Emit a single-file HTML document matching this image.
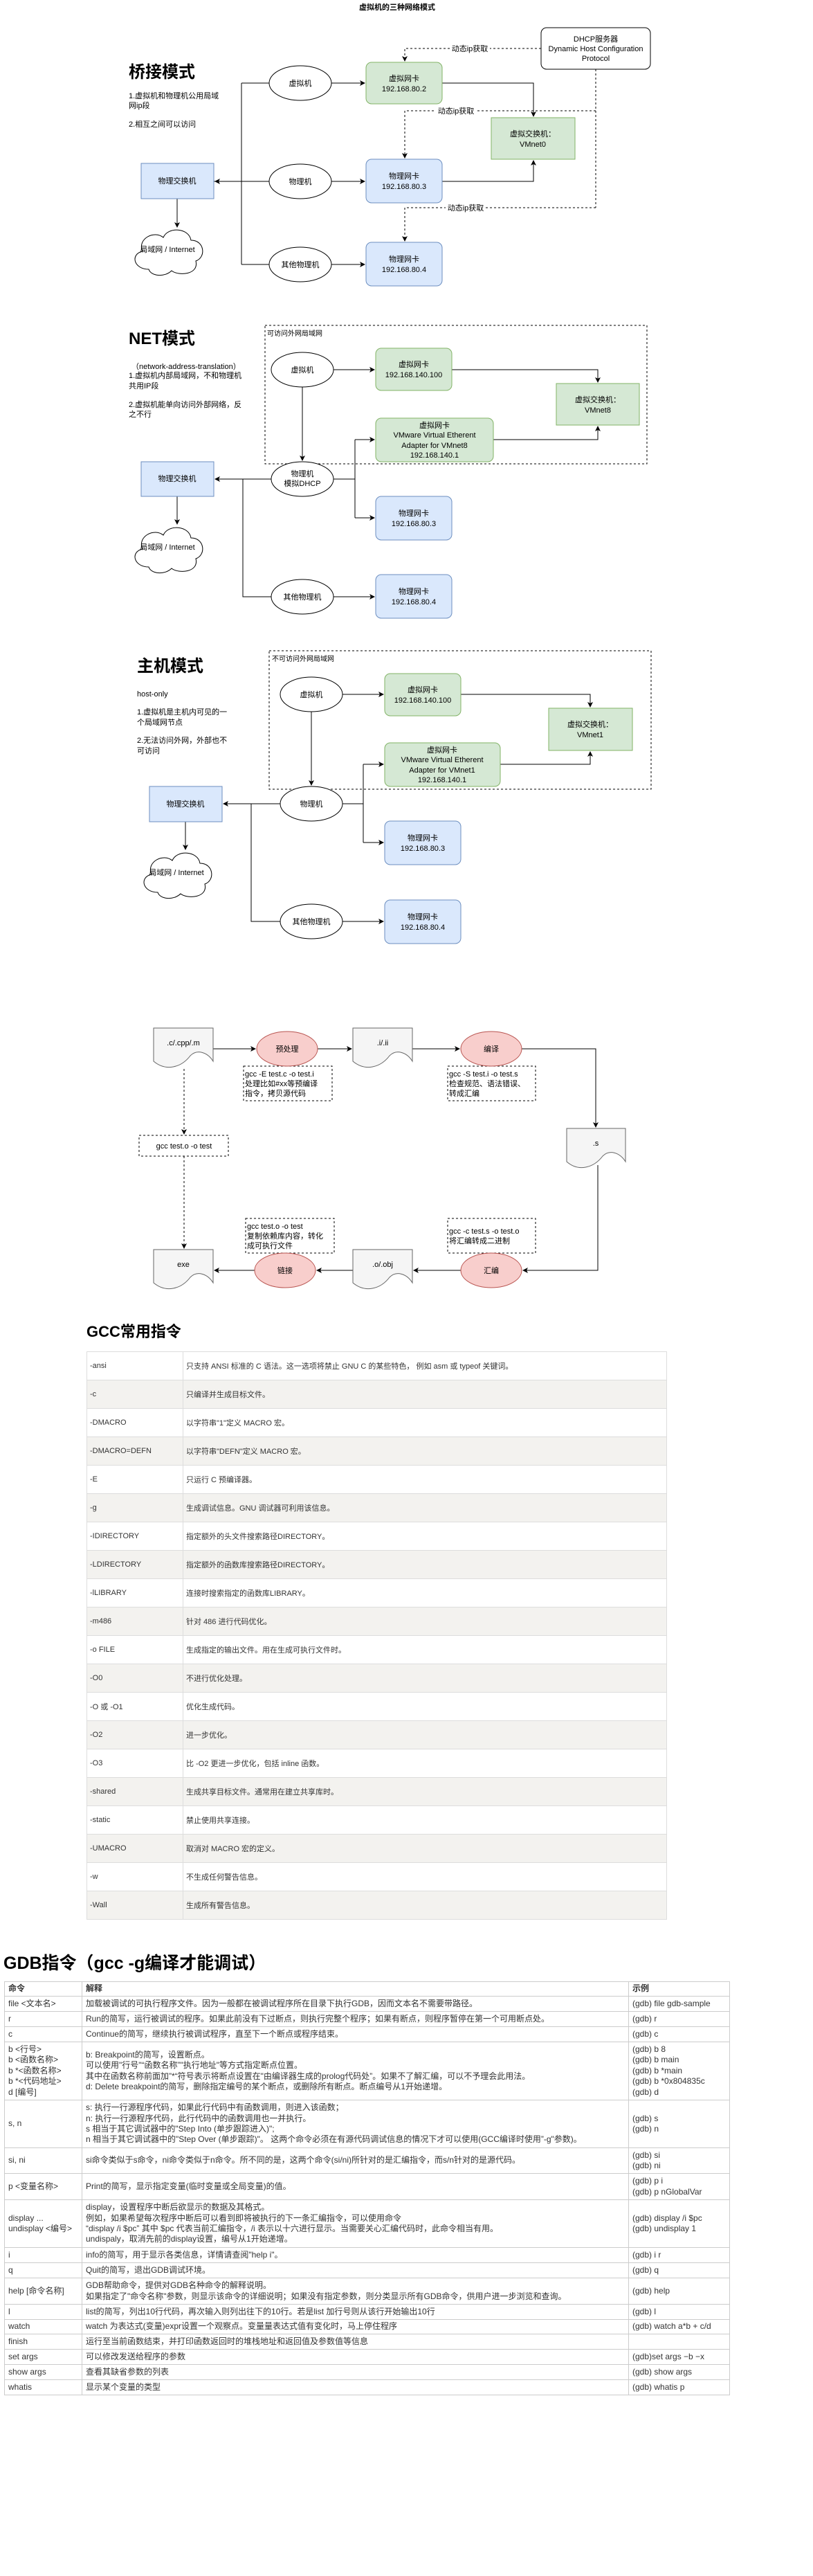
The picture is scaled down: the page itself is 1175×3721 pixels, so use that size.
<!DOCTYPE html>
<html><head><meta charset="utf-8">
<style>
html,body{margin:0;padding:0;background:#fff;}
body{width:1175px;height:3721px;position:relative;overflow:hidden;font-family:"Liberation Sans","Noto Sans CJK SC",sans-serif;}
svg text{font-family:"Liberation Sans","Noto Sans CJK SC",sans-serif;font-size:11px;fill:#000;}
.h{position:absolute;font-weight:bold;color:#000;white-space:nowrap;}
table{position:absolute;border-collapse:collapse;table-layout:fixed;}
.gcc td{border:1px solid #ddd;font-size:11px;color:#333;padding:0 4px;height:40px;white-space:nowrap;}
.gcc tr:nth-child(even) td{background:#f3f2ef;}
.gdb td{border:1px solid #ccc;font-size:12px;line-height:15.4px;color:#333;padding:0 5px;white-space:nowrap;vertical-align:middle;}
.gdb tr.hd td{font-weight:bold;}
</style></head><body>
<svg width="1175" height="1900" style="position:absolute;left:0;top:0" xmlns="http://www.w3.org/2000/svg">
<defs>
<marker id="a" markerWidth="8" markerHeight="8" refX="7" refY="4" orient="auto" markerUnits="userSpaceOnUse"><path d="M0,0 L8,4 L0,8 L2,4 Z" fill="#000"/></marker>
<path id="cloud" d="M27 62 C5 62 0 40 18 36 C10 18 35 5 48 16 C55 0 85 2 88 20 C108 20 110 45 95 50 C100 70 70 72 60 64 C50 74 30 72 27 62 Z"/>
</defs>
<g stroke="#000" fill="none" stroke-width="1">
<!-- ===== Bridge ===== -->
<path d="M349,120 V382 M349,120 H389 M349,382 H389 M389,262 H309" />
<path d="M349,262 H311" marker-end="url(#a)"/>
<path d="M256,287 V328" marker-end="url(#a)"/>
<path d="M479,120 H527" marker-end="url(#a)"/>
<path d="M479,262 H527" marker-end="url(#a)"/>
<path d="M479,382 H527" marker-end="url(#a)"/>
<path d="M639,120 H771 V168" marker-end="url(#a)"/>
<path d="M639,262 H771 V232" marker-end="url(#a)"/>
<g stroke-dasharray="3,3">
<path d="M782,70 H585 V88" marker-end="url(#a)"/>
<path d="M861,100 V300"/>
<path d="M861,160 H585 V228" marker-end="url(#a)"/>
<path d="M861,300 H585 V348" marker-end="url(#a)"/>
</g>
<!-- ===== NET ===== -->
<rect x="383" y="470" width="552" height="200" stroke-dasharray="3,3"/>
<path d="M437,559 V665" marker-end="url(#a)"/>
<path d="M392,692 H311" marker-end="url(#a)"/>
<path d="M351,692 V862 H392"/>
<path d="M256,717 V757" marker-end="url(#a)"/>
<path d="M482,534 H541" marker-end="url(#a)"/>
<path d="M653,534 H864 V552" marker-end="url(#a)"/>
<path d="M713,635 H864 V616" marker-end="url(#a)"/>
<path d="M482,692 H513 V748"/>
<path d="M513,635 H541" marker-end="url(#a)"/>
<path d="M513,748 H541" marker-end="url(#a)"/>
<path d="M513,692 V635"/>
<path d="M482,862 H541" marker-end="url(#a)"/>
<!-- ===== Host ===== -->
<rect x="389" y="940" width="552" height="200" stroke-dasharray="3,3"/>
<path d="M450,1028 V1134" marker-end="url(#a)"/>
<path d="M405,1161 H323" marker-end="url(#a)"/>
<path d="M363,1161 V1331 H405"/>
<path d="M268,1187 V1227" marker-end="url(#a)"/>
<path d="M495,1003 H554" marker-end="url(#a)"/>
<path d="M666,1003 H853 V1021" marker-end="url(#a)"/>
<path d="M723,1104 H853 V1086" marker-end="url(#a)"/>
<path d="M495,1161 H525 V1217 M525,1161 V1104"/>
<path d="M525,1104 H554" marker-end="url(#a)"/>
<path d="M525,1217 H554" marker-end="url(#a)"/>
<path d="M495,1331 H554" marker-end="url(#a)"/>
<!-- ===== GCC flow ===== -->
<path d="M308,1515 H369" marker-end="url(#a)"/>
<path d="M459,1515 H508" marker-end="url(#a)"/>
<path d="M596,1515 H664" marker-end="url(#a)"/>
<path d="M754,1515 H861 V1628" marker-end="url(#a)"/>
<path d="M864,1683 V1835 H756" marker-end="url(#a)"/>
<path d="M666,1835 H598" marker-end="url(#a)"/>
<path d="M510,1835 H458" marker-end="url(#a)"/>
<path d="M368,1835 H310" marker-end="url(#a)"/>
<g stroke-dasharray="3,3">
<path d="M266,1544 V1638" marker-end="url(#a)"/>
<path d="M266,1670 V1803" marker-end="url(#a)"/>
<rect x="201" y="1640" width="129" height="30"/>
<rect x="352" y="1540" width="128" height="50"/>
<rect x="647" y="1540" width="127" height="50"/>
<rect x="355" y="1760" width="128" height="50"/>
<rect x="647" y="1760" width="127" height="50"/>
</g>
</g>
<!-- shapes bridge -->
<g stroke="#000" fill="#fff">
<ellipse cx="434" cy="120" rx="45" ry="25"/>
<ellipse cx="434" cy="262" rx="45" ry="25"/>
<ellipse cx="434" cy="382" rx="45" ry="25"/>
<rect x="782" y="40" width="158" height="60" rx="8"/>
<use href="#cloud" transform="translate(188,327)"/>
<ellipse cx="437" cy="534" rx="45" ry="25"/>
<ellipse cx="437" cy="692" rx="45" ry="25"/>
<ellipse cx="437" cy="862" rx="45" ry="25"/>
<use href="#cloud" transform="translate(188,757)"/>
<ellipse cx="450" cy="1003" rx="45" ry="25"/>
<ellipse cx="450" cy="1161" rx="45" ry="25"/>
<ellipse cx="450" cy="1331" rx="45" ry="25"/>
<use href="#cloud" transform="translate(201,1227)"/>
</g>
<g fill="#d5e8d4" stroke="#82b366">
<rect x="529" y="90" width="110" height="60" rx="8"/>
<rect x="710" y="170" width="121" height="60"/>
<rect x="543" y="503" width="110" height="61" rx="8"/>
<rect x="804" y="554" width="120" height="60"/>
<rect x="543" y="604" width="170" height="63" rx="8"/>
<rect x="556" y="973" width="110" height="61" rx="8"/>
<rect x="793" y="1023" width="121" height="61"/>
<rect x="556" y="1073" width="167" height="63" rx="8"/>
</g>
<g fill="#dae8fc" stroke="#6c8ebf">
<rect x="529" y="230" width="110" height="63" rx="8"/>
<rect x="529" y="350" width="110" height="63" rx="8"/>
<rect x="204" y="236" width="105" height="51"/>
<rect x="543" y="717" width="110" height="63" rx="8"/>
<rect x="543" y="830" width="110" height="63" rx="8"/>
<rect x="204" y="667" width="105" height="50"/>
<rect x="556" y="1186" width="110" height="63" rx="8"/>
<rect x="556" y="1300" width="110" height="63" rx="8"/>
<rect x="216" y="1136" width="105" height="51"/>
</g>
<g fill="#f5f5f5" stroke="#666">
<path d="M222,1485 H308 V1533 C300,1520 285,1515 275,1525 C262,1542 240,1548 222,1533 Z"/>
<path d="M510,1485 H596 V1533 C588,1520 573,1515 563,1525 C550,1542 528,1548 510,1533 Z"/>
<path d="M819,1630 H904 V1678 C896,1665 881,1660 871,1670 C858,1687 836,1693 819,1678 Z"/>
<path d="M510,1805 H596 V1853 C588,1840 573,1835 563,1845 C550,1862 528,1868 510,1853 Z"/>
<path d="M222,1805 H308 V1853 C300,1840 285,1835 275,1845 C262,1862 240,1868 222,1853 Z"/>
</g>
<g fill="#f8cecc" stroke="#b85450">
<ellipse cx="415" cy="1515" rx="44" ry="25"/>
<ellipse cx="710" cy="1515" rx="44" ry="25"/>
<ellipse cx="710" cy="1835" rx="44" ry="25"/>
<ellipse cx="412" cy="1835" rx="44" ry="25"/>
</g>
<!-- label backgrounds -->
<g fill="#fff">
<rect x="650" y="63" width="58" height="14"/>
<rect x="630" y="153" width="58" height="14"/>
<rect x="644" y="293" width="58" height="14"/>
</g>
<!-- texts -->
<g text-anchor="middle">
<text x="574" y="14" font-weight="bold">虚拟机的三种网络模式</text>
<text x="679" y="74">动态ip获取</text>
<text x="659" y="164">动态ip获取</text>
<text x="673" y="304">动态ip获取</text>
<text x="861" y="60">DHCP服务器</text>
<text x="861" y="74">Dynamic Host Configuration</text>
<text x="861" y="88">Protocol</text>
<text x="434" y="124">虚拟机</text>
<text x="434" y="266">物理机</text>
<text x="434" y="386">其他物理机</text>
<text x="584" y="117">虚拟网卡</text><text x="584" y="132">192.168.80.2</text>
<text x="770" y="197">虚拟交换机：</text><text x="770" y="212">VMnet0</text>
<text x="584" y="258">物理网卡</text><text x="584" y="273">192.168.80.3</text>
<text x="584" y="378">物理网卡</text><text x="584" y="393">192.168.80.4</text>
<text x="256" y="265">物理交换机</text>
<text x="242" y="364">局域网 / Internet</text>
<text x="437" y="538">虚拟机</text>
<text x="437" y="688">物理机</text><text x="437" y="702">模拟DHCP</text>
<text x="437" y="866">其他物理机</text>
<text x="598" y="530">虚拟网卡</text><text x="598" y="545">192.168.140.100</text>
<text x="864" y="581">虚拟交换机：</text><text x="864" y="596">VMnet8</text>
<text x="628" y="618">虚拟网卡</text><text x="628" y="632">VMware Virtual Etherent</text><text x="628" y="647">Adapter for VMnet8</text><text x="628" y="661">192.168.140.1</text>
<text x="598" y="745">物理网卡</text><text x="598" y="760">192.168.80.3</text>
<text x="598" y="858">物理网卡</text><text x="598" y="873">192.168.80.4</text>
<text x="256" y="695">物理交换机</text>
<text x="242" y="794">局域网 / Internet</text>
<text x="450" y="1007">虚拟机</text>
<text x="450" y="1165">物理机</text>
<text x="450" y="1335">其他物理机</text>
<text x="611" y="1000">虚拟网卡</text><text x="611" y="1015">192.168.140.100</text>
<text x="853" y="1050">虚拟交换机：</text><text x="853" y="1065">VMnet1</text>
<text x="639" y="1087">虚拟网卡</text><text x="639" y="1101">VMware Virtual Etherent</text><text x="639" y="1116">Adapter for VMnet1</text><text x="639" y="1130">192.168.140.1</text>
<text x="611" y="1214">物理网卡</text><text x="611" y="1229">192.168.80.3</text>
<text x="611" y="1328">物理网卡</text><text x="611" y="1343">192.168.80.4</text>
<text x="268" y="1165">物理交换机</text>
<text x="255" y="1264">局域网 / Internet</text>
<text x="265" y="1510">.c/.cpp/.m</text>
<text x="553" y="1510">.i/.ii</text>
<text x="861" y="1655">.s</text>
<text x="553" y="1830">.o/.obj</text>
<text x="265" y="1830">exe</text>
<text x="415" y="1519">预处理</text>
<text x="710" y="1519">编译</text>
<text x="710" y="1839">汇编</text>
<text x="412" y="1839">链接</text>
<text x="266" y="1659">gcc test.o -o test</text>
</g>
<g>
<text x="186" y="112" style="font-size:24px;font-weight:bold">桥接模式</text>
<text x="186" y="142">1.虚拟机和物理机公用局域</text>
<text x="186" y="156">网ip段</text>
<text x="186" y="183">2.相互之间可以访问</text>
<text x="186" y="497" style="font-size:24px;font-weight:bold">NET模式</text>
<text x="190" y="533">（network-address-translation）</text>
<text x="186" y="546">1.虚拟机内部局域网，不和物理机</text>
<text x="186" y="561">共用IP段</text>
<text x="186" y="588">2.虚拟机能单向访问外部网络，反</text>
<text x="186" y="602">之不行</text>
<text x="198" y="970" style="font-size:24px;font-weight:bold">主机模式</text>
<text x="198" y="1006">host-only</text>
<text x="198" y="1032">1.虚拟机是主机内可见的一</text>
<text x="198" y="1047">个局域网节点</text>
<text x="198" y="1073">2.无法访问外网，外部也不</text>
<text x="198" y="1088">可访问</text>
<text x="386" y="485" style="font-size:10px">可访问外网局域网</text>
<text x="393" y="955" style="font-size:10px">不可访问外网局域网</text>
<text x="354" y="1555">gcc -E test.c -o test.i</text>
<text x="354" y="1569">处理比如#xx等预编译</text>
<text x="354" y="1583">指令，拷贝源代码</text>
<text x="649" y="1555">gcc -S test.i -o test.s</text>
<text x="649" y="1569">检查规范、语法错误、</text>
<text x="649" y="1583">转成汇编</text>
<text x="357" y="1775">gcc test.o -o test</text>
<text x="357" y="1789">复制依赖库内容，转化</text>
<text x="357" y="1803">成可执行文件</text>
<text x="649" y="1782">gcc -c test.s -o test.o</text>
<text x="649" y="1796">将汇编转成二进制</text>
</g>
</svg>

<div class="h" style="left:125px;top:1906px;font-size:22px;">GCC常用指令</div>
<table class="gcc" style="left:125px;top:1952px;width:838px;">
<colgroup><col style="width:139px"><col style="width:699px"></colgroup>
<tr><td>-ansi</td><td>只支持 ANSI 标准的 C 语法。这一选项将禁止 GNU C 的某些特色， 例如 asm 或 typeof 关键词。</td></tr>
<tr><td>-c</td><td>只编译并生成目标文件。</td></tr>
<tr><td>-DMACRO</td><td>以字符串"1"定义 MACRO 宏。</td></tr>
<tr><td>-DMACRO=DEFN</td><td>以字符串"DEFN"定义 MACRO 宏。</td></tr>
<tr><td>-E</td><td>只运行 C 预编译器。</td></tr>
<tr><td>-g</td><td>生成调试信息。GNU 调试器可利用该信息。</td></tr>
<tr><td>-IDIRECTORY</td><td>指定额外的头文件搜索路径DIRECTORY。</td></tr>
<tr><td>-LDIRECTORY</td><td>指定额外的函数库搜索路径DIRECTORY。</td></tr>
<tr><td>-lLIBRARY</td><td>连接时搜索指定的函数库LIBRARY。</td></tr>
<tr><td>-m486</td><td>针对 486 进行代码优化。</td></tr>
<tr><td>-o FILE</td><td>生成指定的输出文件。用在生成可执行文件时。</td></tr>
<tr><td>-O0</td><td>不进行优化处理。</td></tr>
<tr><td>-O 或 -O1</td><td>优化生成代码。</td></tr>
<tr><td>-O2</td><td>进一步优化。</td></tr>
<tr><td>-O3</td><td>比 -O2 更进一步优化，包括 inline 函数。</td></tr>
<tr><td>-shared</td><td>生成共享目标文件。通常用在建立共享库时。</td></tr>
<tr><td>-static</td><td>禁止使用共享连接。</td></tr>
<tr><td>-UMACRO</td><td>取消对 MACRO 宏的定义。</td></tr>
<tr><td>-w</td><td>不生成任何警告信息。</td></tr>
<tr><td>-Wall</td><td>生成所有警告信息。</td></tr>
</table>

<div class="h" style="left:5px;top:2816px;font-size:25px;">GDB指令（gcc -g编译才能调试）</div>
<table class="gdb" style="left:6px;top:2862px;width:1048px;">
<colgroup><col style="width:112px"><col style="width:790px"><col style="width:146px"></colgroup>
<tr class="hd" style="height:21px"><td>命令</td><td>解释</td><td>示例</td></tr>
<tr style="height:22px"><td>file &lt;文本名&gt;</td><td>加载被调试的可执行程序文件。因为一般都在被调试程序所在目录下执行GDB，因而文本名不需要带路径。</td><td>(gdb) file gdb-sample</td></tr>
<tr style="height:22px"><td>r</td><td>Run的简写，运行被调试的程序。如果此前没有下过断点，则执行完整个程序；如果有断点，则程序暂停在第一个可用断点处。</td><td>(gdb) r</td></tr>
<tr style="height:22px"><td>c</td><td>Continue的简写，继续执行被调试程序，直至下一个断点或程序结束。</td><td>(gdb) c</td></tr>
<tr style="height:84px"><td>b &lt;行号&gt;<br>b &lt;函数名称&gt;<br>b *&lt;函数名称&gt;<br>b *&lt;代码地址&gt;<br>d [编号]</td><td>b: Breakpoint的简写，设置断点。<br>可以使用"行号"“函数名称”"执行地址"等方式指定断点位置。<br>其中在函数名称前面加”*“符号表示将断点设置在"由编译器生成的prolog代码处”。如果不了解汇编，可以不予理会此用法。<br>d: Delete breakpoint的简写，删除指定编号的某个断点，或删除所有断点。断点编号从1开始递增。</td><td>(gdb) b 8<br>(gdb) b main<br>(gdb) b *main<br>(gdb) b *0x804835c<br>(gdb) d</td></tr>
<tr style="height:69px"><td>s, n</td><td>s: 执行一行源程序代码，如果此行代码中有函数调用，则进入该函数；<br>n: 执行一行源程序代码，此行代码中的函数调用也一并执行。<br>s 相当于其它调试器中的"Step Into (单步跟踪进入)";<br>n 相当于其它调试器中的"Step Over (单步跟踪)"。 这两个命令必须在有源代码调试信息的情况下才可以使用(GCC编译时使用”-g"参数)。</td><td>(gdb) s<br>(gdb) n</td></tr>
<tr style="height:37px"><td>si, ni</td><td>si命令类似于s命令，ni命令类似于n命令。所不同的是，这两个命令(si/ni)所针对的是汇编指令，而s/n针对的是源代码。</td><td>(gdb) si<br>(gdb) ni</td></tr>
<tr style="height:38px"><td>p &lt;变量名称&gt;</td><td>Print的简写，显示指定变量(临时变量或全局变量)的值。</td><td>(gdb) p i<br>(gdb) p nGlobalVar</td></tr>
<tr style="height:69px"><td>display ...<br>undisplay &lt;编号&gt;</td><td>display，设置程序中断后欲显示的数据及其格式。<br>例如，如果希望每次程序中断后可以看到即将被执行的下一条汇编指令，可以使用命令<br>“display /i $pc” 其中 $pc 代表当前汇编指令，/i 表示以十六进行显示。当需要关心汇编代码时，此命令相当有用。<br>undispaly，取消先前的display设置，编号从1开始递增。</td><td>(gdb) display /i $pc<br>(gdb) undisplay 1</td></tr>
<tr style="height:22px"><td>i</td><td>info的简写，用于显示各类信息，详情请查阅"help i"。</td><td>(gdb) i r</td></tr>
<tr style="height:22px"><td>q</td><td>Quit的简写，退出GDB调试环境。</td><td>(gdb) q</td></tr>
<tr style="height:38px"><td>help [命令名称]</td><td>GDB帮助命令，提供对GDB名种命令的解释说明。<br>如果指定了"命令名称"参数，则显示该命令的详细说明；如果没有指定参数，则分类显示所有GDB命令，供用户进一步浏览和查询。</td><td>(gdb) help</td></tr>
<tr style="height:22px"><td>l</td><td>list的简写，列出10行代码，再次输入则列出往下的10行。若是list 加行号则从该行开始输出10行</td><td>(gdb) l</td></tr>
<tr style="height:21px"><td>watch</td><td>watch 为表达式(变量)expr设置一个观察点。变量量表达式值有变化时，马上停住程序</td><td>(gdb) watch a*b + c/d</td></tr>
<tr style="height:22px"><td>finish</td><td>运行至当前函数结束，并打印函数返回时的堆栈地址和返回值及参数值等信息</td><td></td></tr>
<tr style="height:22px"><td>set args</td><td>可以修改发送给程序的参数</td><td>(gdb)set args −b −x</td></tr>
<tr style="height:22px"><td>show args</td><td>查看其缺省参数的列表</td><td>(gdb) show args</td></tr>
<tr style="height:22px"><td>whatis</td><td>显示某个变量的类型</td><td>(gdb) whatis p</td></tr>
</table>
</body></html>
